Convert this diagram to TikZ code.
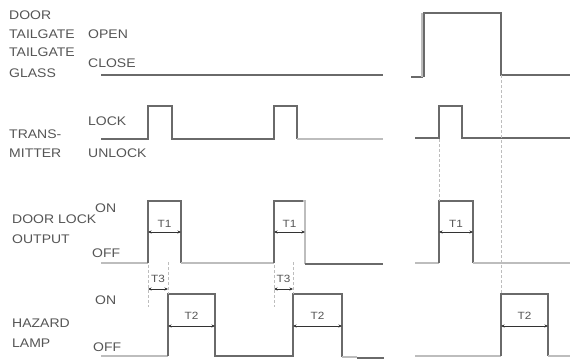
\documentclass[tikz,border=0pt]{standalone}
\usepackage{fontspec}
\setmainfont{Liberation Sans}[FakeStretch=1.12]
\usepackage{xcolor}
\usetikzlibrary{arrows.meta}
\definecolor{sigdark}{HTML}{6A6A6A}
\definecolor{siglight}{HTML}{BDBDBD}
\definecolor{lbl}{HTML}{555555}
\tikzset{
  sig/.style={draw=sigdark, line width=1.2pt},
  siglt/.style={draw=siglight, line width=2.4pt},
  guide/.style={draw=siglight, densely dashed, line width=0.7pt},
  dim/.style={draw=black!80, line width=0.6pt, {Stealth[length=3.5pt,width=3pt]}-{Stealth[length=3.5pt,width=3pt]}},
  lab/.style={anchor=base west, inner sep=0pt, text=lbl, font=\fontsize{12.5}{12.5}\selectfont},
  tlab/.style={inner sep=0pt, text=lbl, font=\fontsize{10.5}{10.5}\selectfont},
}

\begin{document}
\begin{tikzpicture}[x=1pt, y=-1pt]
  \useasboundingbox (0,0) rectangle (571,362);

  % signal names
  \node[lab] (door) at (9,19.5) {DOOR};
  \node[lab] (tg) at (9,38.5) {TAILGATE};
  \node[lab] (tgg) at (9,56.5) {TAILGATE};
  \node[lab] (glass) at (9,77.5) {GLASS};
  \node[lab] (open) at (88,38.5) {OPEN};
  \node[lab] (close) at (88,67.5) {CLOSE};
  \node[lab] (trans) at (9,138.5) {TRANS-};
  \node[lab] (mitter) at (9,157.5) {MITTER};
  \node[lab] (lock) at (88,125.5) {LOCK};
  \node[lab] (unlock) at (88,157.5) {UNLOCK};
  \node[lab] (dlock) at (12,223.5) {DOOR LOCK};
  \node[lab] (output) at (12,243.5) {OUTPUT};
  \node[lab] (dlon) at (95,212.5) {ON};
  \node[lab] (dloff) at (92,257.5) {OFF};
  \node[lab] (hazard) at (12,327.5) {HAZARD};
  \node[lab] (lamp) at (12,347.5) {LAMP};
  \node[lab] (hzon) at (95,304.5) {ON};
  \node[lab] (hzoff) at (93,351.5) {OFF};

  % door / tailgate
  \draw[sig] (101,75) -- (383,75);
  \draw[sig] (411,77) -- (423,77);
  \draw[siglt] (422,77) -- (422,13);
  \draw[sig] (424,77) -- (424,13) -- (501,13) -- (501,75) -- (570,75);

  % transmitter
  \draw[sig] (101,139) -- (148,139) -- (148,106) -- (172,106) -- (172,139)
    -- (274,139) -- (274,106) -- (297,106) -- (297,139);
  \draw[siglt] (297,139) -- (383,139);
  \draw[sig] (415,138) -- (439,138) -- (439,106) -- (462,106) -- (462,138) -- (570,138);

  % door lock output
  \draw[siglt] (101,263) -- (148,263);
  \draw[sig] (148,263) -- (148,201) -- (181,201) -- (181,263);
  \draw[siglt] (181,263) -- (274,263);
  \draw[siglt] (274,201) -- (305,201) -- (305,264);
  \draw[sig] (274,263) -- (274,201) -- (303,201);
  \draw[sig] (305,264) -- (383,264);
  \draw[siglt] (415,263) -- (439,263);
  \draw[sig] (439,263) -- (439,201) -- (473,201) -- (473,263);
  \draw[siglt] (473,263) -- (570,263);

  % hazard lamp
  \draw[siglt] (101,356) -- (168,356);
  \draw[sig] (168,356) -- (168,294) -- (215,294) -- (215,356) -- (293,356)
    -- (293,294) -- (342,294) -- (342,357);
  \draw[siglt] (342,357) -- (357,357);
  \draw[sig] (357,358) -- (384,358);
  \draw[siglt] (415,356) -- (501,356);
  \draw[sig] (501,356) -- (501,294) -- (548,294) -- (548,356);
  \draw[siglt] (548,356) -- (570,356);

  % guides
  \draw[guide] (148,265) -- (148,307);
  \draw[guide] (168,262) -- (168,294);
  \draw[guide] (274,265) -- (274,307);
  \draw[guide] (293,262) -- (293,294);
  \draw[guide] (439,139) -- (439,201);
  \draw[guide] (501,75) -- (501,294);

  % timings
  \draw[dim] (148,232) -- (181,232);
  \draw[dim] (274,232) -- (305,232);
  \draw[dim] (439,232) -- (473,232);
  \draw[dim] (148,289) -- (168,289);
  \draw[dim] (274,289) -- (293,289);
  \draw[dim] (168,326) -- (215,326);
  \draw[dim] (293,326) -- (342,326);
  \draw[dim] (501,326) -- (548,326);
  \node[tlab] (t1a) at (164.5,224) {T1};
  \node[tlab] (t1b) at (289.5,224) {T1};
  \node[tlab] (t1c) at (456,224) {T1};
  \node[tlab] (t3a) at (158,279) {T3};
  \node[tlab] (t3b) at (283.5,279) {T3};
  \node[tlab] (t2a) at (191.5,316) {T2};
  \node[tlab] (t2b) at (317.5,316) {T2};
  \node[tlab] (t2c) at (524.5,316) {T2};
\end{tikzpicture}
\end{document}
